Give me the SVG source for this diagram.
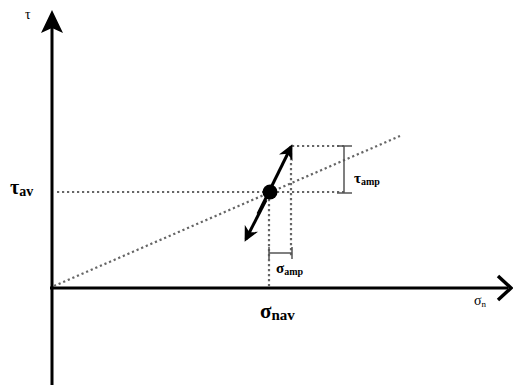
<svg xmlns="http://www.w3.org/2000/svg" width="513" height="385" viewBox="0 0 513 385">
<style>
.axis{stroke:#000;stroke-width:3;fill:none}
.dot{stroke:#666;stroke-width:2.2;stroke-dasharray:2.2 2.8;fill:none}
.br{stroke:#555;stroke-width:1.5;fill:none}
.t{font-family:"Liberation Serif",serif;fill:#000}
</style>
<defs>
<marker id="ah" viewBox="0 0 10 10" refX="8" refY="5" markerWidth="5" markerHeight="5" orient="auto-start-reverse" markerUnits="strokeWidth">
<path d="M0,0 L10,5 L0,10 L3,5 Z" fill="#000"/>
</marker>
</defs>
<rect width="513" height="385" fill="#fff"/>
<g id="axes">
<line class="axis" x1="52" y1="385" x2="52" y2="20"/>
<path d="M52,10 L63,33 L52,28 L41,33 Z" fill="#000"/>
<line class="axis" x1="50" y1="288" x2="508" y2="288"/>
<path d="M498,276 L511,288 L498,300" stroke="#000" stroke-width="3.5" fill="none"/>
</g>
<g id="connectors">
<line class="dot" x1="54" y1="286" x2="400" y2="136"/>
<line class="dot" x1="57" y1="192" x2="344" y2="192"/>
<line class="dot" x1="292" y1="146" x2="344" y2="146"/>
<line class="dot" x1="269" y1="194" x2="269" y2="288"/>
<line class="dot" x1="291" y1="148" x2="291" y2="256"/>
<line x1="258" y1="214" x2="291" y2="147" stroke="#000" stroke-width="3" marker-end="url(#ah)"/>
<line x1="266" y1="200" x2="246" y2="239" stroke="#000" stroke-width="3" marker-end="url(#ah)"/>
</g>
<g id="point"><circle cx="270" cy="192" r="7.5" fill="#000"/></g>
<g id="tau-amp-bracket">
<line class="br" x1="344" y1="146" x2="344" y2="193"/>
<line class="br" x1="337" y1="146" x2="352" y2="146"/>
<line class="br" x1="337" y1="193" x2="352" y2="193"/>
</g>
<g id="sigma-amp-bracket">
<line class="br" x1="269" y1="253" x2="292" y2="253"/>
<line class="br" x1="269" y1="247" x2="269" y2="259"/>
<line class="br" x1="292" y1="247" x2="292" y2="259"/>
</g>
<g id="labels">
<text class="t" x="25" y="19" font-size="14">τ</text>
<text class="t" x="10" y="194" font-size="20" font-weight="bold">τ<tspan font-size="14" dy="2">av</tspan></text>
<text class="t" x="354" y="183" font-size="15" font-weight="bold" fill="#333">τ<tspan font-size="10" dy="2">amp</tspan></text>
<text class="t" x="276" y="273" font-size="15" font-weight="bold" fill="#333">σ<tspan font-size="10" dy="2">amp</tspan></text>
<text class="t" x="260" y="318" font-size="21" font-weight="bold">σ<tspan font-size="15" dy="2">nav</tspan></text>
<text class="t" x="474" y="305" font-size="14" fill="#444">σ<tspan font-size="9" dy="2">n</tspan></text>
</g>
</svg>
